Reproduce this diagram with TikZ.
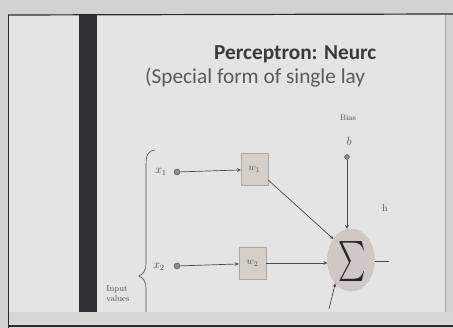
\documentclass[tikz,border=0pt]{standalone}
\usepackage{fontspec}
\newfontfamily\slidefont{Carlito}
\usetikzlibrary{arrows,shapes.geometric}

\definecolor{pagegray}{HTML}{D2D2D0}
\definecolor{slideface}{HTML}{E4E4E2}
\definecolor{bandgray}{HTML}{D7D7D5}
\definecolor{framedark}{HTML}{2C2C2C}
\definecolor{bardark}{HTML}{303132}
\definecolor{titleink}{HTML}{3A3A3A}
\definecolor{subink}{HTML}{5A5A5A}
\definecolor{inkgray}{HTML}{4A4A4A}
\definecolor{dotgray}{HTML}{8C8C8C}
\definecolor{boxfill}{HTML}{D5CFC9}
\definecolor{boxedge}{HTML}{ABA6A1}
\definecolor{sumfill}{HTML}{CFC8C4}

\tikzset{
  inlabel/.style={text=inkgray, font=\large},
  indot/.style={circle, draw=inkgray, fill=dotgray, inner sep=0pt, minimum size=6pt},
  wbox/.style={draw=boxedge, fill=boxfill, minimum width=27pt, minimum height=32pt, inner sep=0pt, text=inkgray, font=\normalsize},
  link/.style={->, draw=inkgray, line width=0.7pt},
}

\begin{document}
\begin{tikzpicture}[x=1pt, y=-1pt, >=stealth, every node/.style={font=\small}]
  \useasboundingbox (0,0) rectangle (453,328);
  % slide background
  \fill[pagegray] (0,0) rectangle (453,328);
  \fill[slideface] (9,15) rectangle (445,312);
  \fill[bandgray] (9,312) rectangle (453,325);
  \draw[framedark, line width=1.2pt] (8,15) -- (453,14);
  \draw[framedark, line width=1pt] (8,15) -- (8,328);
  \draw[framedark, line width=1.2pt] (9,326) -- (453,326);
  \draw[boxedge, line width=0.6pt] (445,15) -- (445,312);
  \fill[bardark] (79,15) rectangle (97,312);

  % title, cut off at the right
  \node[anchor=base west, inner sep=0pt, text=titleink, font=\slidefont\fontsize{21.3}{24}\selectfont\bfseries] (title) at (214,60) {Perceptron: Neurc};
  \node[anchor=base west, inner sep=0pt, text=subink, font=\slidefont\fontsize{21.3}{24}\selectfont] (subtitle) at (145,84) {(Special form of single lay};

  % inputs
  \node[inlabel] (x1) at (161,172) {$x_1$};
  \node[indot] (dot1) at (177,172) {};
  \node[wbox] (w1) at (254.5,169.5) {$w_1$};
  \node[inlabel] (x2) at (159,267) {$x_2$};
  \node[indot] (dot2) at (177,266) {};
  \node[wbox] (w2) at (252.5,263.5) {$w_2$};

  % bias
  \node[text=inkgray, font=\fontsize{8}{9}\selectfont] (bias) at (348,118) {Bias};
  \node[inlabel] (b) at (349,141) {$b$};
  \node[indot, minimum size=5pt] (bdot) at (347,157) {};

  % summing junction
  \node[ellipse, fill=sumfill, draw=boxedge!70, minimum width=47pt, minimum height=62pt, inner sep=0pt] (sum) at (351,260) {};
  \node[xscale=2.6, yscale=4, text=black!85, font=\normalsize] (sigma) at (352,262) {$\sum$};
  \node[text=inkgray, font=\normalsize] (h) at (385,208) {h};
  \coordinate (out) at (389,261);
  \coordinate (low) at (329,309);

  \draw[link] (dot1) -- (w1);
  \draw[link] (dot2) -- (w2);
  \draw[link] (w1.east |- 0,180) -- (sum.130);
  \draw[link] (w2.east |- 0,263) -- (sum.west |- 0,263);
  \draw[link] (bdot) -- (sum.north -| bdot);
  \draw[inkgray, line width=0.7pt] (sum.east |- 0,261) -- (out);
  \draw[link] (low) -- (sum.236);

  % brace round the inputs
  \draw[inkgray, line width=0.6pt] (155,150) .. controls (147,151) and (146,156) .. (146,166)
    -- (146,264) .. controls (146,271) and (143,274) .. (139,276)
    .. controls (143,278) and (146,281) .. (146,288) -- (146,312);
  \node[text=inkgray, font=\fontsize{8.5}{10}\selectfont, align=left] (input) at (118,294) {Input\\values};
\end{tikzpicture}
\end{document}
